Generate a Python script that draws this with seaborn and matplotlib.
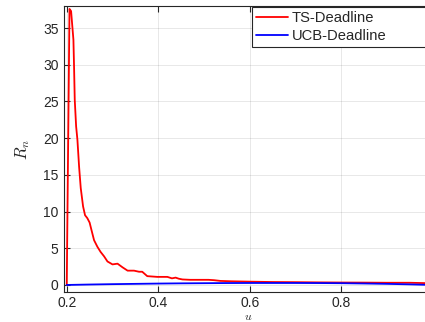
import matplotlib
matplotlib.use("Agg")
import matplotlib.pyplot as plt
import seaborn as sns
import pandas as pd

# TS-Deadline regret curve
ts_u = [0.200, 0.206, 0.2095, 0.2146, 0.216, 0.2175, 0.2205, 0.2233, 0.227, 0.2306,
        0.2357, 0.240, 0.245, 0.250, 0.254, 0.2597, 0.267, 0.274, 0.2816, 0.289,
        0.300, 0.311, 0.322, 0.333, 0.347, 0.358, 0.365, 0.376, 0.398, 0.420,
        0.430, 0.438, 0.445, 0.453, 0.470, 0.493, 0.510, 0.522, 0.536, 0.560,
        0.600, 0.650, 0.700, 0.750, 0.800, 0.850, 0.900, 0.950, 0.985]
ts_r = [0.0, 37.6, 37.3, 33.4, 29.7, 25.2, 21.6, 19.8, 16.1, 13.2,
        10.7, 9.5, 9.1, 8.5, 7.5, 6.1, 5.2, 4.5, 3.9, 3.2,
        2.8, 2.9, 2.4, 1.95, 1.95, 1.8, 1.8, 1.2, 1.1, 1.1,
        0.9, 1.0, 0.85, 0.75, 0.7, 0.7, 0.7, 0.65, 0.55, 0.5,
        0.45, 0.4, 0.38, 0.35, 0.33, 0.32, 0.3, 0.3, 0.25]

# UCB-Deadline regret curve
ucb_u = [0.200, 0.250, 0.300, 0.350, 0.400, 0.450, 0.500, 0.550, 0.600, 0.650,
         0.700, 0.750, 0.800, 0.850, 0.900, 0.950, 0.985]
ucb_r = [0.0, 0.06, 0.11, 0.15, 0.19, 0.22, 0.24, 0.26, 0.27, 0.27,
         0.27, 0.26, 0.24, 0.2, 0.15, 0.08, 0.02]

sns.set_theme(style='whitegrid')
plt.rcParams['font.family'] = ['Liberation Sans', 'DejaVu Sans']
plt.rcParams['mathtext.fontset'] = 'cm'

df = pd.concat([
    pd.DataFrame({'u': ts_u, 'R': ts_r, 'method': 'TS-Deadline'}),
    pd.DataFrame({'u': ucb_u, 'R': ucb_r, 'method': 'UCB-Deadline'}),
])

fig = plt.figure(figsize=(4.25, 3.22), dpi=100)
ax = fig.add_axes([64 / 425, 1 - 292.3 / 322, 368.7 / 425, 286.3 / 322])

sns.lineplot(data=df, x='u', y='R', hue='method', palette=['#ff0000', '#0000ff'],
             linewidth=1.3, ax=ax, sort=False, estimator=None)

ax.set_xlim(0.194, 1.0)
ax.set_ylim(-1.0, 38.0)
ax.set_xticks([0.2, 0.4, 0.6, 0.8])
ax.set_xticklabels(['0.2', '0.4', '0.6', '0.8'])
ax.set_yticks(range(0, 40, 5))

ax.set_facecolor('white')
ax.grid(True, color='#262626', alpha=0.15, linewidth=0.5)
for side in ['left', 'top', 'bottom', 'right']:
    ax.spines[side].set_visible(True)
    ax.spines[side].set_color('#262626')
    ax.spines[side].set_linewidth(0.8)
ax.tick_params(direction='in', length=4, width=0.8, color='#262626',
               labelsize=10, labelcolor='#262626', top=True, right=True,
               bottom=True, left=True, pad=4)
ax.tick_params(axis='x', pad=2.5)

ax.set_xlabel('$u$', fontsize=8.5)
ax.xaxis.set_label_coords(0.5, -(311.5 - 292.3) / 286.3)
ax.set_ylabel('$R_n$', fontsize=12, labelpad=8)

leg = ax.legend(loc='upper left', bbox_to_anchor=(0.509, 0.0, 0.5, 0.997),
                mode='expand', fontsize=10.6,
                frameon=True, fancybox=False, edgecolor='#262626', framealpha=1,
                handlelength=2.2, handletextpad=0.2, borderpad=0.3,
                labelspacing=0.25, borderaxespad=0)
leg.get_frame().set_linewidth(0.8)

fig.savefig('out.png', dpi=100)
